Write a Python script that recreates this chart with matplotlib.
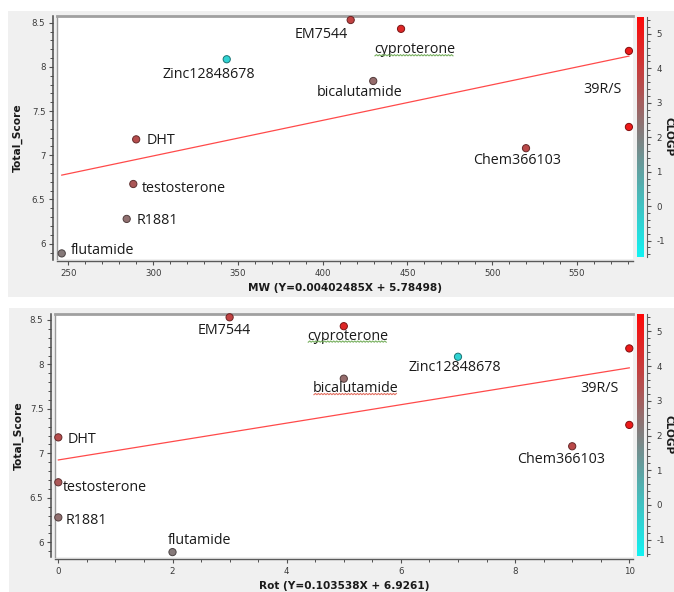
import matplotlib
matplotlib.use('Agg')
import matplotlib.pyplot as plt
import numpy as np
from matplotlib.colors import LinearSegmentedColormap, Normalize
from matplotlib.ticker import MultipleLocator, FuncFormatter
from matplotlib.patches import Rectangle
from matplotlib.lines import Line2D

plt.rcParams['axes.unicode_minus'] = False
plt.rcParams['font.family'] = ['DejaVu Sans']

# ---------------- data ----------------
compounds = ['flutamide', 'R1881', 'testosterone', 'DHT', 'Zinc12848678', 'EM7544',
             'cyproterone', 'bicalutamide', 'Chem366103', '39R/S', '39R/S']
mw = [246.1, 284.4, 288.3, 290.0, 343.4, 416.5, 446.2, 429.8, 519.9, 580.6, 580.6]
rot = [2, 0, 0, 0, 7, 3, 5, 5, 9, 10, 10]
total_score = [5.89, 6.28, 6.675, 7.18, 8.086, 8.53, 8.43, 7.84, 7.08, 8.18, 7.32]
clogp = [2.2, 2.5, 3.2, 3.5, -0.5, 3.8, 4.6, 2.6, 3.6, 5.0, 5.0]
fit_mw = (0.00402485, 5.78498)
fit_rot = (0.103538, 6.9261)
clogp_range = (-1.47, 5.5)

# ---------------- styling / layout ----------------
W, H = 674, 592
fig = plt.figure(figsize=(W / 100, H / 100), dpi=100)
fig.patch.set_facecolor('white')


def box(l, t, r, b):
    return [l / W, 1 - b / H, (r - l) / W, (b - t) / H]


fig.patches.append(Rectangle((8 / W, 1 - 297 / H), (W - 8) / W, (297 - 11) / H,
                             transform=fig.transFigure, facecolor='#f0f0f0',
                             edgecolor='none', zorder=-10))
fig.patches.append(Rectangle((9 / W, 0), (W - 9) / W, (592 - 308) / H,
                             transform=fig.transFigure, facecolor='#f0f0f0',
                             edgecolor='none', zorder=-10))

cmap = LinearSegmentedColormap.from_list(
    'clogp', [(0, '#12f2f2'), (0.5, '#808080'), (1, '#ff0808')])
norm = Normalize(*clogp_range)

LABEL_FONT = ['Open Sans', 'DejaVu Sans']

offsets_top = [(9, 2.6, 'left'), (10, -2, 'left'), (9, -4, 'left'), (10, -1, 'left'),
               (-18, -15, 'center'), (-29, -14, 'center'), (13.5, -21, 'center'),
               (-14, -11, 'center'), (-8.5, -12, 'center'), (-26, -39, 'center'), None]
offsets_bot = [(27, 11.6, 'center'), (7.3, -3.4, 'left'), (4.7, -5, 'left'),
               (9.7, -2.3, 'left'), (-3.5, -11, 'center'), (-5, -13, 'center'),
               (4, -10, 'center'), (12, -10, 'center'), (-11, -13, 'center'),
               (-30, -40, 'center'), None]
# spell-check squiggles seen under some labels in the screenshot
squiggle_top = {'cyproterone': '#6aa84f'}
squiggle_bot = {'cyproterone': '#6aa84f', 'bicalutamide': '#e06050'}

pending_squiggles = []


def fmt(v, _):
    return '%g' % v


def panel(ax_box, cbar_box, tick_box, x, xlim, ylim, fit, xlabel, offsets,
          xmajor, xminor, ylab_x, xlab_y, clogp_xy, squiggles):
    ax = fig.add_axes(box(*ax_box))
    ax.set_facecolor('white')
    face = cmap(norm(np.array(clogp)))
    edge = face.copy()
    edge[:, :3] *= 0.55
    sc = ax.scatter(x, total_score, c=clogp, cmap=cmap, norm=norm, s=27,
                    edgecolors=edge, linewidths=0.7, zorder=3, clip_on=False)
    xs = np.array([min(x), max(x)])
    ax.plot(xs, fit[0] * xs + fit[1], color='#ff4a4a', lw=0.9, zorder=2)
    ax.set_xlim(*xlim)
    ax.set_ylim(*ylim)

    for name, xi, yi, off in zip(compounds, x, total_score, offsets):
        if off is None:
            continue
        dx, dy, ha = off
        t = ax.annotate(name, (xi, yi), xytext=(dx, dy), textcoords='offset pixels',
                        ha=ha, va='center', fontsize=10.3, family=LABEL_FONT,
                        color='#1a1a1a', zorder=4)
        if name in squiggles:
            pending_squiggles.append((t, squiggles[name]))

    ax.spines['right'].set_visible(False)
    ax.spines['top'].set_color('#a0a0a0')
    ax.spines['top'].set_linewidth(2)
    ax.spines['left'].set_color('#4a4a4a')
    ax.spines['left'].set_linewidth(1.1)
    ax.spines['left'].set_position(('outward', 2.6))
    ax.spines['bottom'].set_color('#5a5a5a')
    ax.spines['bottom'].set_linewidth(1.0)
    ax.spines['bottom'].set_position(('outward', 1.2))
    ax.plot([0, 0], [0, 1], transform=ax.transAxes, color='#9a9a9a', lw=1,
            clip_on=False, zorder=1)

    ax.xaxis.set_major_locator(MultipleLocator(xmajor))
    ax.xaxis.set_minor_locator(MultipleLocator(xminor))
    ax.yaxis.set_major_locator(MultipleLocator(0.5))
    ax.yaxis.set_minor_locator(MultipleLocator(0.1))
    ax.xaxis.set_major_formatter(FuncFormatter(fmt))
    ax.yaxis.set_major_formatter(FuncFormatter(fmt))
    ax.tick_params(which='major', length=3.2, width=0.8, color='#505050',
                   labelsize=6.2, labelcolor='#3a3a3a', pad=2.5)
    ax.tick_params(which='minor', length=2, width=0.7, color='#505050')

    ax.set_xlabel(xlabel, fontsize=7.6, fontweight='bold', color='#1a1a1a')
    ax.xaxis.set_label_coords(0.5, xlab_y)
    ax.xaxis.label.set_va('center')
    ax.set_ylabel('Total_Score', fontsize=7.7, fontweight='bold', color='#1a1a1a')
    ax.yaxis.set_label_coords(ylab_x, 0.5)
    ax.yaxis.label.set_va('center')

    cax = fig.add_axes(box(*cbar_box))
    cb = fig.colorbar(sc, cax=cax)
    cb.outline.set_visible(False)
    cb.set_ticks([])
    cax.minorticks_off()

    tax = fig.add_axes(box(*tick_box))
    tax.set_facecolor('none')
    tax.set_ylim(*clogp_range)
    for s in ['left', 'top', 'bottom']:
        tax.spines[s].set_visible(False)
    tax.spines['right'].set_color('#606060')
    tax.spines['right'].set_linewidth(0.8)
    tax.set_xticks([])
    tax.yaxis.tick_right()
    tax.yaxis.set_major_locator(MultipleLocator(1))
    tax.yaxis.set_minor_locator(MultipleLocator(0.2))
    tax.yaxis.set_major_formatter(FuncFormatter(fmt))
    tax.tick_params(which='major', length=3.2, width=0.8, color='#505050',
                    labelsize=6.2, labelcolor='#3a3a3a', pad=3.5)
    tax.tick_params(which='minor', length=1.8, width=0.7, color='#505050')

    fig.text(clogp_xy[0] / W, 1 - clogp_xy[1] / H, 'CLOGP', rotation=270,
             ha='center', va='center', fontsize=7.6, fontweight='bold', color='#1a1a1a')
    return ax


panel((57, 15.5, 633, 259.5), (637, 16.7, 644, 256.7), (646, 16.7, 647, 256.7),
      mw, (243.3, 583), (5.821, 8.581), fit_mw,
      'MW (Y=%gX + %g)' % fit_mw, offsets_top, 50, 10, -0.068, -0.116, (668.5, 136.7),
      squiggle_top)

panel((55, 314, 633, 557), (637, 314, 644, 556), (646, 314, 647, 556),
      rot, (-0.058, 10.065), (5.835, 8.567), fit_rot,
      'Rot (Y=%gX + %g)' % fit_rot, offsets_bot, 2, 0.5, -0.0635, -0.119, (668.5, 435),
      squiggle_bot)

# wavy underline under flagged labels (display pixels -> figure fraction)
fig.canvas.draw()
renderer = fig.canvas.get_renderer()
for t, col in pending_squiggles:
    bb = t.get_window_extent(renderer)
    px = np.arange(bb.x0 + 1, bb.x1 - 1, 1.5)
    py = bb.y0 + 1.5 + np.where(np.arange(len(px)) % 2 == 0, 0.0, 1.2)
    fig.add_artist(Line2D(px / W, py / H, transform=fig.transFigure,
                          color=col, lw=0.8, alpha=0.9))

fig.savefig('out.png', dpi=100, facecolor=fig.get_facecolor())
